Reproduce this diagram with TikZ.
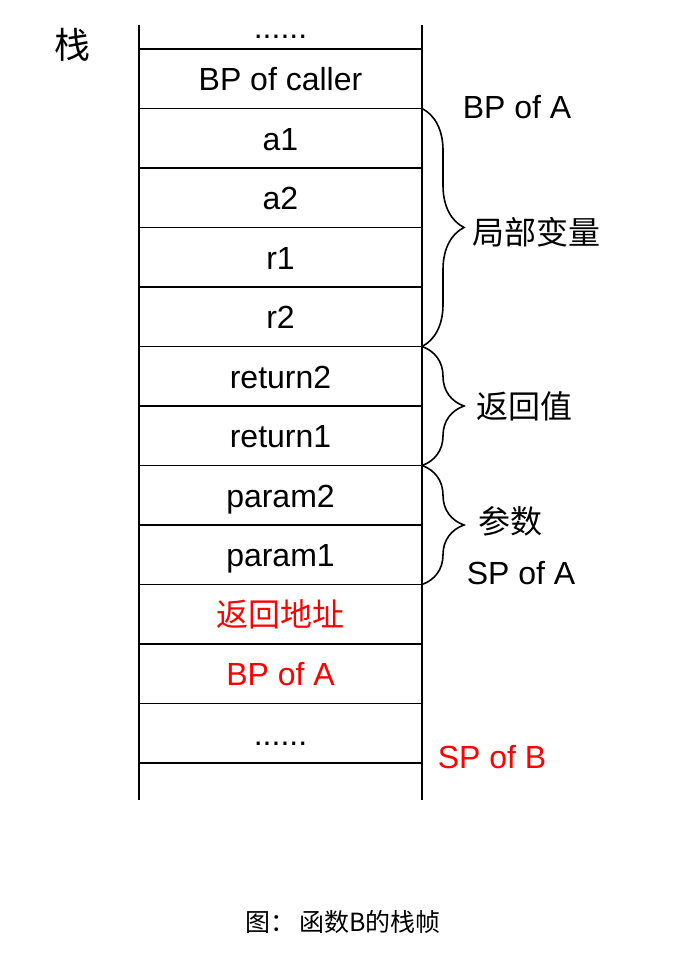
\documentclass[tikz,border=0pt]{standalone}
\usepackage{fontspec}
\setmainfont{Liberation Sans}
\newfontfamily\cjk{Noto Sans CJK SC}
\usetikzlibrary{positioning,decorations.pathreplacing}
\definecolor{spred}{RGB}{255,0,0}

\begin{document}
\begin{tikzpicture}[x=1pt, y=-1pt, line width=1.6pt,
  every node/.style={font=\fontsize{32}{38}\selectfont, inner sep=0pt, outer sep=0pt},
  cell/.style={minimum width=283pt, minimum height=59.5pt, text height=28pt, text depth=4pt},
  brace/.style={decorate, decoration={brace, amplitude=42pt}}]
\useasboundingbox (0,0) rectangle (686,976);
% stack cells, top to bottom
\node[minimum width=283pt, minimum height=24pt] (top) at (280.5,37) {......};
\node[cell, below=0pt of top]     (caller)  {BP of caller};
\node[cell, below=0pt of caller]  (a1)      {a1};
\node[cell, below=0pt of a1]      (a2)      {a2};
\node[cell, below=0pt of a2]      (r1)      {r1};
\node[cell, below=0pt of r1]      (r2)      {r2};
\node[cell, below=0pt of r2]      (ret2)    {return2};
\node[cell, below=0pt of ret2]    (ret1)    {return1};
\node[cell, below=0pt of ret1]    (par2)    {param2};
\node[cell, below=0pt of par2]    (par1)    {param1};
\node[cell, below=0pt of par1, text=spred] (retaddr) {\cjk 返回地址};
\node[cell, below=0pt of retaddr, text=spred] (bpa) {BP of A};
\node[cell, below=0pt of bpa]     (dots)    {......};
\node[minimum width=283pt, minimum height=37pt, below=0pt of dots] (bottom) {};
\foreach \n in {top,caller,a1,a2,r1,r2,ret2,ret1,par2,par1,retaddr,bpa,dots}
  \draw (\n.south west) -- (\n.south east);
\draw (top.north west) -- (bottom.south west);
\draw (top.north east) -- (bottom.south east);
% braces
\draw[brace] (a1.north east) -- (r2.south east);
\draw[brace] (ret2.north east) -- (ret1.south east);
\draw[brace] (par2.north east) -- (par1.south east);
% labels
\node (bpA) at (517,107) {BP of A};
\node (locals) at (536,232) {\cjk 局部变量};
\node (retval) at (524,406) {\cjk 返回值};
\node (params) at (510,521) {\cjk 参数};
\node (spA) at (521,573) {SP of A};
\node[text=spred] (spB) at (492,757) {SP of B};
\node[font=\cjk\fontsize{36}{40}\selectfont] (stack) at (72,45) {栈};
\node[font=\cjk\fontsize{25}{30}\selectfont] (caption) at (343,922) {图：\,函数B的栈帧};
\end{tikzpicture}
\end{document}
